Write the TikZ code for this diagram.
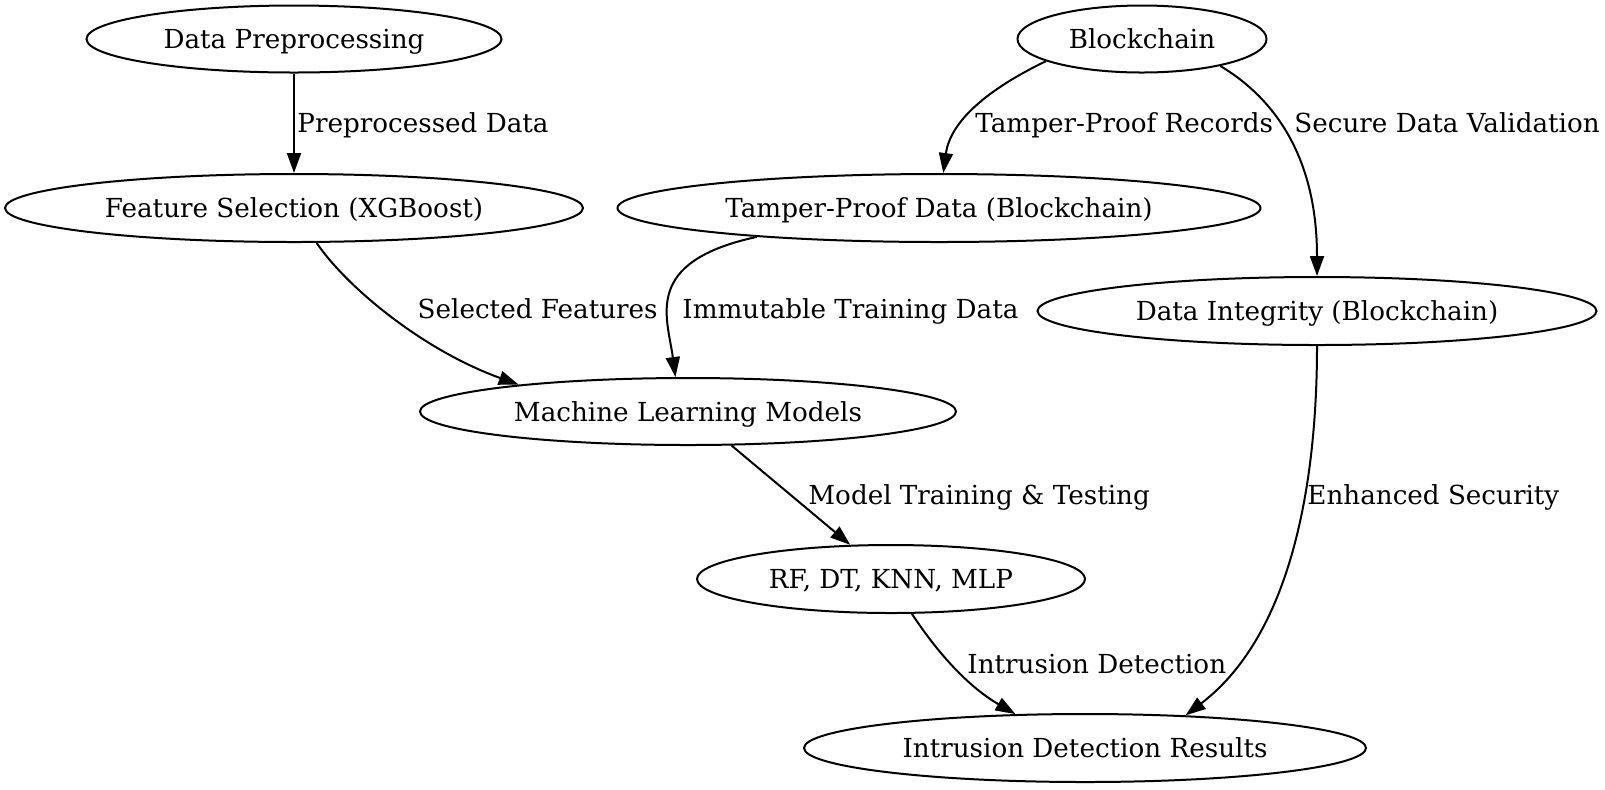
\documentclass[tikz,border=0pt]{standalone}
\usepackage{fontspec}
\setmainfont{DejaVu Serif}
\usetikzlibrary{arrows.meta,shapes.geometric}
\begin{document}
\begin{tikzpicture}[x=0.5pt,y=-0.5pt,
  ell/.style={draw,ellipse,inner sep=0pt,line width=1pt,text height=9.5pt,text depth=0pt,font=\fontsize{13.1}{15}\selectfont},
  lbl/.style={anchor=base west,inner sep=0pt,font=\fontsize{13.1}{15}\selectfont},
  lblr/.style={anchor=base east,inner sep=0pt,font=\fontsize{13.1}{15}\selectfont},
  conn/.style={draw,line width=1pt,-{Triangle[length=10pt,width=7pt]}}]
\useasboundingbox[fill=white] (0,0) rectangle (1605,789);
\node[ell,minimum width=207.5pt,minimum height=33.5pt] (dp) at (294,39) {Data Preprocessing};
\node[ell,minimum width=124.5pt,minimum height=33.5pt] (bc) at (1142,39) {Blockchain};
\node[ell,minimum width=289pt,minimum height=34pt] (fs) at (294,208) {Feature Selection (XGBoost)};
\node[ell,minimum width=321.5pt,minimum height=34pt] (tpd) at (939,208) {Tamper-Proof Data (Blockchain)};
\node[ell,minimum width=279.5pt,minimum height=34pt] (di) at (1317,311) {Data Integrity (Blockchain)};
\node[ell,minimum width=268pt,minimum height=33.5pt] (ml) at (688,411.5) {Machine Learning Models};
\node[ell,minimum width=194pt,minimum height=34pt] (rf) at (891,579) {RF, DT, KNN, MLP};
\node[ell,minimum width=281pt,minimum height=34pt] (idr) at (1085,748) {Intrusion Detection Results};

\draw[conn] (dp.south) -- (fs.north);
\draw[conn] (bc.193.7) .. controls +(-58,28) and +(7,-52) .. (tpd.83.3);
\draw[conn] (bc.-19) .. controls +(47,28) and +(0,-127) .. (di.north);
\draw[conn] (fs.-57) .. controls +(29,43) and +(-97,-35) .. (ml.171.2);
\draw[conn] (tpd.189.5) .. controls +(-115,25) and +(-8,-60) .. (ml.110);
\draw[conn] (ml.-38.6) -- (rf.140.3);
\draw[conn] (rf.-59.7) .. controls +(23,35) and +(-50,-29) .. (idr.154);
\draw[conn] (di.south) .. controls +(0,125) and +(110,-84) .. (idr.18.8);

\node[lbl] (l1) at (297,132) {Preprocessed Data};
\node[lbl] (l2) at (975,132) {Tamper-Proof Records};
\node[lbl] (l3) at (1294,132) {Secure Data Validation};
\node[lblr] (l4) at (658,318) {Selected Features};
\node[lbl] (l5) at (682,318) {Immutable Training Data};
\node[lbl] (l6) at (808,504) {Model Training \& Testing};
\node[lbl] (l7) at (967,673) {Intrusion Detection};
\node[lbl] (l8) at (1307,504) {Enhanced Security};
\end{tikzpicture}
\end{document}
